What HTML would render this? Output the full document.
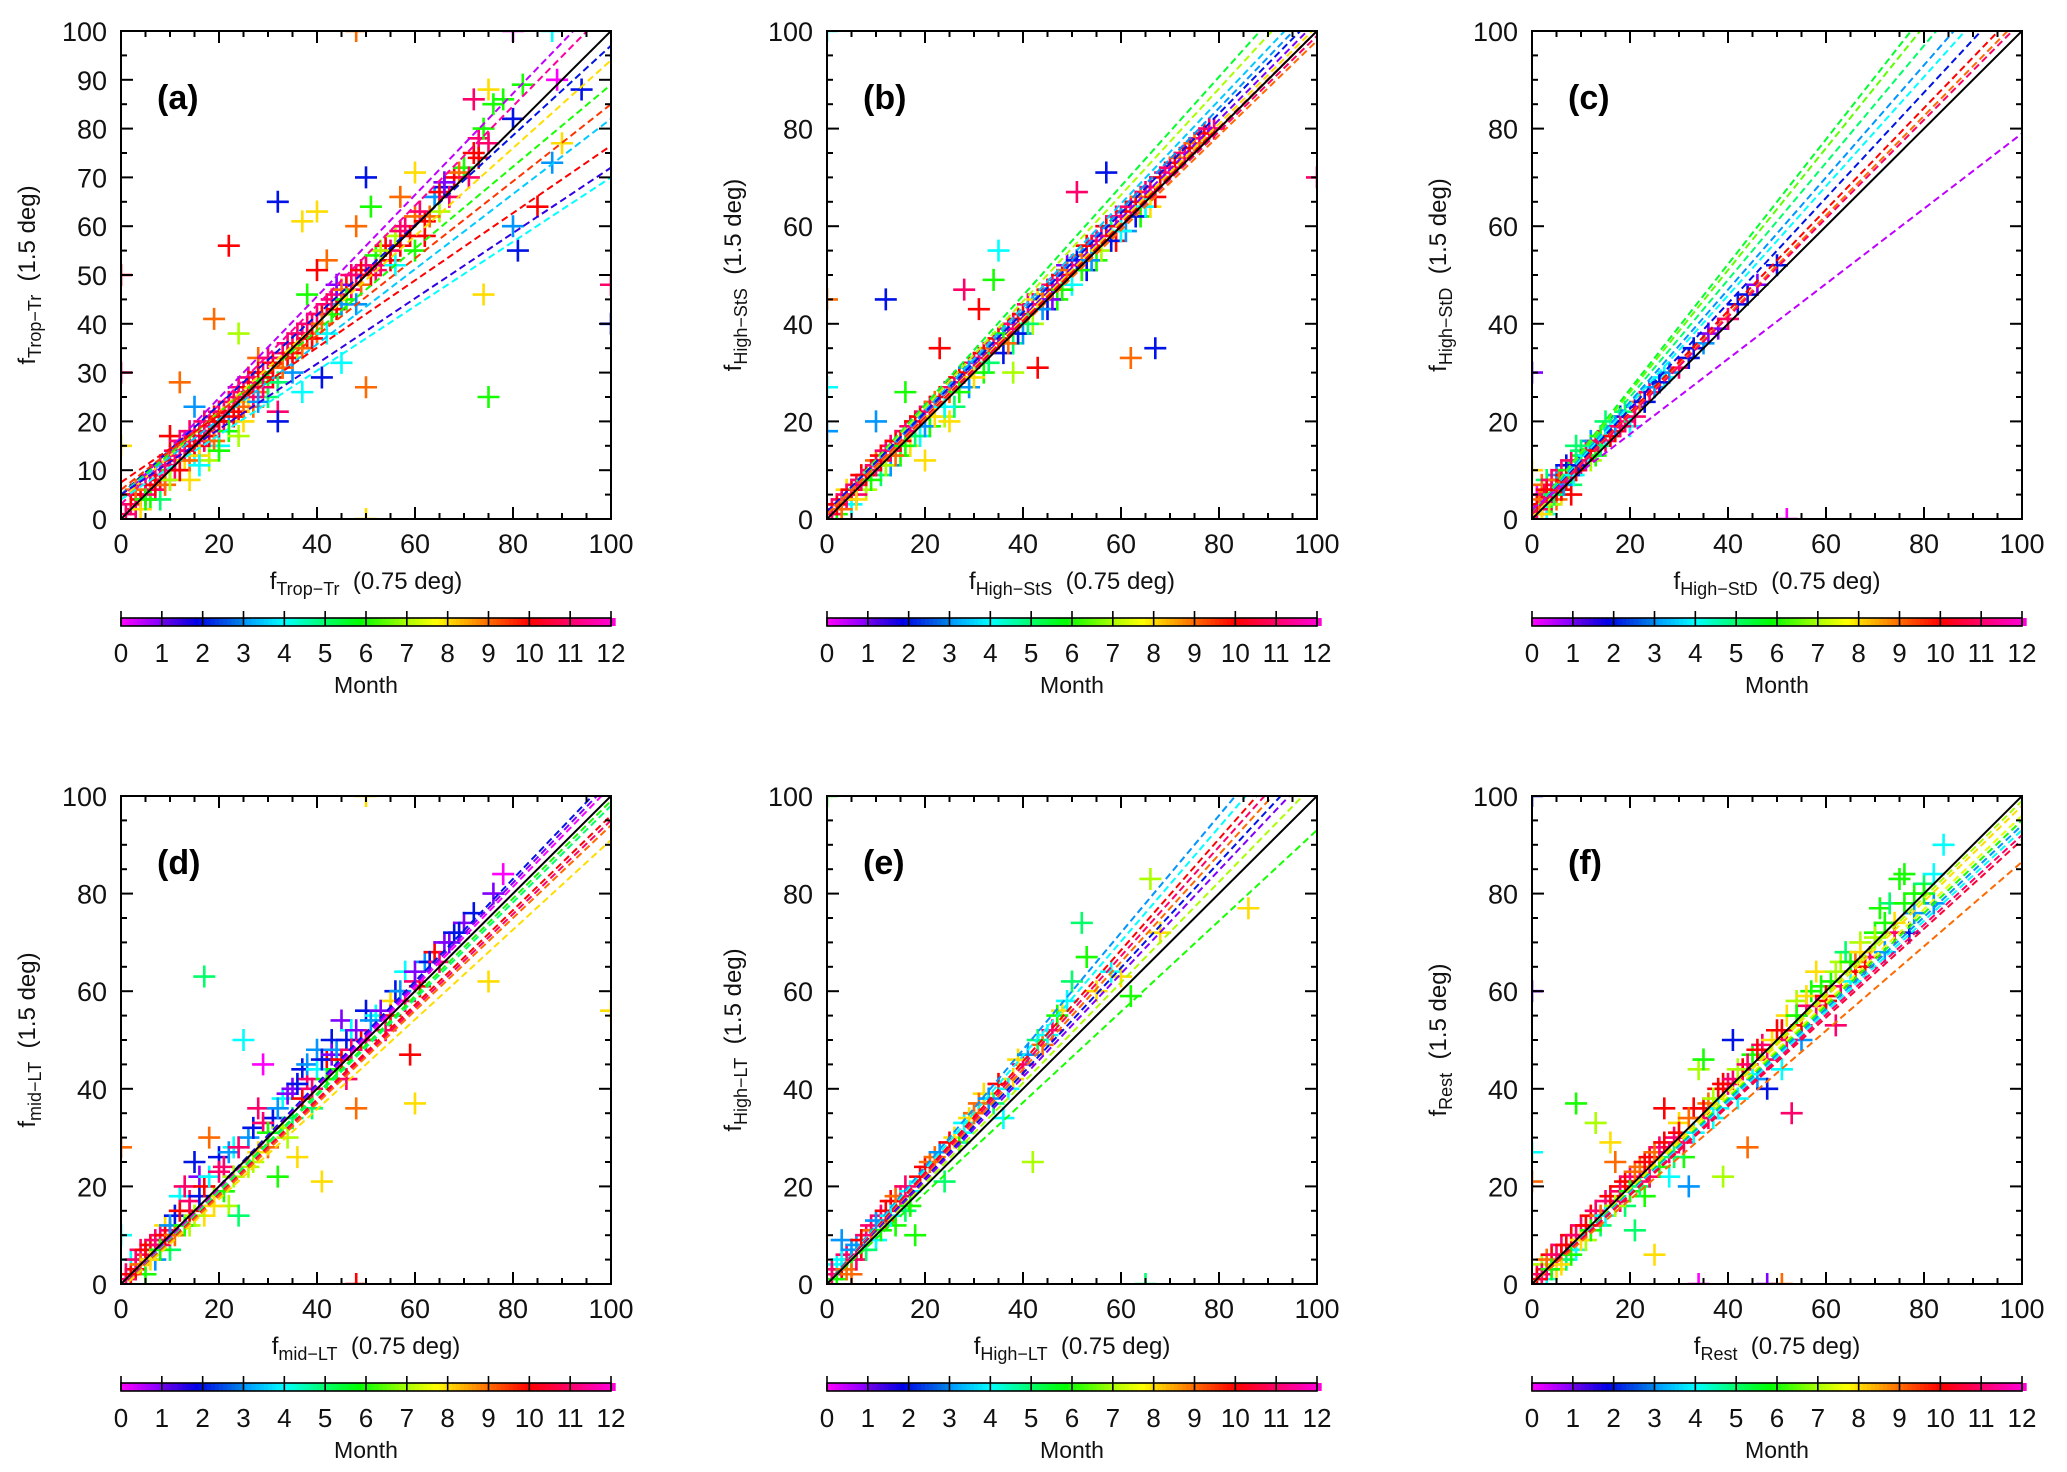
<!DOCTYPE html>
<html><head><meta charset="utf-8">
<style>
html,body{margin:0;padding:0;background:#fff;}
svg{display:block;font-family:"Liberation Sans",sans-serif;}
</style></head>
<body>
<svg id="fig" width="2067" height="1472" viewBox="0 0 2067 1472" xmlns="http://www.w3.org/2000/svg"></svg>
<script>
// ---- data ----
const panelIds = ['a','b','c','d','e','f'];
const panelSub = ['Trop\u2212Tr','High\u2212StS','High\u2212StD','mid\u2212LT','High\u2212LT','Rest'];
const monthTicks = [0,1,2,3,4,5,6,7,8,9,10,11,12];
const xTicks = [0,20,40,60,80,100];
const yTicksA = [0,10,20,30,40,50,60,70,80,90,100];
const yTicksOther = [0,20,40,60,80,100];

// points: [x, y, month]
const pointsA = [[2,3,11],[3,5,11],[4,4,10],[5,7,11],[6,6,9],[7,9,11],[8,8,10],[9,11,11],[10,10,6],[10,13,11],[11,12,10],[12,14,11],[13,12,8],[13,16,11],[14,15,10],[15,17,11],[15,13,4],[16,18,10],[17,16,11],[18,19,11],[18,15,7],[19,21,10],[20,18,11],[21,22,11],[22,20,3],[23,24,11],[24,22,10],[25,26,11],[26,24,8],[27,28,11],[28,26,9],[29,30,11],[30,28,6],[31,32,10],[32,22,11],[32,20,2],[33,34,11],[34,33,10],[35,36,11],[36,35,7],[37,38,11],[38,37,10],[39,40,11],[40,38,9],[41,42,10],[42,44,11],[43,42,6],[44,46,11],[45,44,3],[46,48,10],[47,47,11],[48,50,11],[49,48,9],[50,52,11],[51,50,10],[52,54,6],[53,52,11],[54,56,10],[55,55,11],[56,58,7],[57,56,10],[58,60,11],[60,62,9],[62,61,10],[64,66,3],[65,63,7],[66,68,2],[68,70,10],[70,72,6],[72,75,10],[73,78,11],[74,80,6],[76,85,6],[78,86,6],[80,82,2],[72,86,11],[75,88,8],[82,89,6],[85,64,10],[88,73,3],[90,77,8],[94,88,2],[89,90,0],[80,60,3],[81,55,2],[74,46,8],[75,25,6],[50,27,9],[45,32,4],[37,26,4],[41,29,2],[32,65,2],[37,61,8],[40,63,8],[22,56,10],[19,41,9],[24,38,7],[12,28,9],[50,70,2],[51,64,6],[60,71,8],[57,66,9],[48,60,9],[42,53,9],[38,46,6],[44,48,1],[40,51,10],[15,23,3],[10,17,10],[26,29,11],[28,33,9],[6,4,6],[8,4,5],[20,15,4],[30,25,5],[35,30,3],[25,20,8],[27,23,9],[14,8,8],[18,12,7],[3,2,11],[5,5,11],[7,6,11],[9,8,11],[11,10,11],[13,14,11],[16,15,11],[19,18,11],[21,20,11],[24,25,11],
[1,1,11],[2,5,10],[3,6,9],[4,2,8],[5,4,6],[6,9,11],[7,7,10],[8,11,11],[9,7,9],[10,8,7],[11,14,11],[12,10,10],[12,16,11],[14,12,9],[14,18,11],[15,15,10],[16,13,8],[17,20,11],[18,17,10],[19,16,9],[20,22,11],[20,20,10],[22,24,11],[22,18,6],[23,21,10],[24,27,11],[25,23,9],[26,27,10],[27,25,11],[28,30,10],[29,27,11],[30,33,11],[31,29,10],[33,31,9],[34,36,11],[35,34,10],[36,38,11],[37,35,9],[38,40,11],[39,37,10],[40,42,11],[41,40,9],[43,45,11],[44,43,10],[45,47,9],[46,45,6],[47,50,11],[49,51,10],[52,51,11],[53,55,7],[55,53,10],[57,59,11],[59,58,10],[61,63,11],[63,62,9],[65,67,10],[67,66,11],[69,71,9],[71,70,11],[73,74,10],[75,77,11],[66,69,1],[62,58,10],[60,55,6],[56,52,4],[48,44,3],[42,38,4],[32,28,5],[28,24,3],[16,11,4],[20,14,6],[24,17,7],
[100,48,11],[100,40,2],[0,50,10],[0,30,11],[0,15,8],[48,100,9],[80,100,0],[88,100,4],[50,0,8]];
const pointsB = [[1,2,11],[2,1,6],[3,4,11],[4,6,8],[5,3,4],[6,7,11],[7,9,10],[8,6,7],[9,10,11],[10,12,9],[11,9,5],[12,14,11],[13,11,3],[14,16,10],[15,13,6],[16,18,11],[17,15,8],[18,20,10],[19,17,4],[20,22,11],[21,19,6],[22,24,9],[23,35,10],[24,21,7],[25,27,11],[26,23,5],[27,29,10],[28,47,11],[29,27,3],[30,32,11],[31,43,10],[32,30,6],[33,35,9],[34,49,6],[35,55,4],[36,34,2],[37,39,11],[38,36,5],[39,41,10],[40,38,3],[41,44,11],[42,40,7],[43,31,10],[44,46,9],[45,43,2],[46,48,11],[47,45,6],[48,50,10],[49,52,1],[50,48,4],[51,67,11],[52,54,9],[53,51,2],[54,56,10],[55,53,6],[56,58,11],[57,71,2],[58,60,5],[59,57,10],[60,62,11],[61,59,3],[62,33,9],[63,65,10],[64,62,6],[65,67,11],[66,64,8],[67,35,2],[68,70,10],[70,72,11],[72,74,9],[74,76,10],[76,78,11],[78,80,11],[12,45,2],[20,12,8],[16,26,6],[10,20,3],[25,20,8],[38,30,7],[2,3,11],[4,4,11],[6,5,11],[8,9,11],[11,12,10],[13,15,11],
[1,1,11],[2,3,10],[3,2,9],[4,5,11],[5,6,10],[6,4,8],[7,8,11],[8,9,10],[9,8,6],[10,11,11],[11,13,10],[12,11,7],[13,14,11],[14,13,9],[15,16,10],[16,15,6],[17,19,11],[18,17,5],[19,21,10],[20,19,3],[21,23,11],[22,21,8],[23,25,10],[24,23,4],[25,26,9],[26,28,11],[27,26,6],[28,30,10],[29,31,3],[30,29,8],[31,33,11],[32,34,10],[33,32,5],[34,36,11],[35,37,10],[36,38,6],[37,36,9],[38,40,11],[39,38,2],[40,42,10],[41,40,5],[42,44,11],[43,45,8],[44,43,3],[45,47,10],[46,45,1],[47,49,11],[48,47,6],[49,51,9],[50,52,11],[51,53,2],[52,51,6],[53,56,10],[54,53,3],[55,57,11],[56,55,7],[57,60,10],[58,57,2],[59,62,11],[60,59,4],[61,63,10],[62,64,11],[63,62,2],[64,66,9],[65,64,4],[66,68,11],[67,66,10],[69,71,11],[71,73,10],[73,75,11],[75,77,9],[77,79,10],[79,80,11],
[0,45,9],[0,27,4],[0,100,4],[100,70,11],[0,18,3]];
const pointsC = [[1,2,11],[1,5,0],[2,3,10],[2,7,9],[3,4,11],[3,1,4],[4,6,10],[4,3,6],[5,7,11],[5,9,3],[6,5,8],[6,8,11],[7,9,10],[7,11,2],[8,7,5],[8,10,11],[9,12,4],[10,11,10],[10,13,6],[11,14,11],[12,12,7],[12,16,3],[13,15,10],[14,17,6],[15,16,11],[16,19,4],[17,18,10],[18,21,2],[19,20,11],[20,19,4],[21,23,1],[22,24,9],[24,26,11],[25,27,3],[27,29,4],[30,31,11],[32,33,2],[35,36,3],[38,39,1],[40,41,11],[44,46,2],[50,52,2],[15,20,5],[9,15,5],[3,8,5],[5,4,9],[8,5,10],[2,2,11],[4,5,11],[6,6,10],
[0.5,1,11],[1,3,10],[1.5,4,9],[2,1,8],[2.5,5,11],[3,6,10],[3.5,3,7],[4,8,11],[4.5,5,5],[5,6,10],[5.5,8,9],[6,10,11],[6.5,7,3],[7,8,10],[7.5,10,6],[8,12,11],[8.5,9,4],[9,10,10],[9.5,11,2],[10,14,5],[11,12,11],[11.5,13,4],[12,14,10],[13,13,6],[13.5,16,11],[14,15,5],[15,17,4],[16,17,10],[17,19,3],[18,19,11],[19,22,5],[21,21,11],[23,24,2],[26,28,2],[28,30,3],[33,35,2],[36,38,1],[42,44,2],[46,48,1],
[0,30,1],[0,10,8],[52,0,0]];
const pointsD = [[1,2,11],[2,5,4],[3,3,10],[4,7,11],[5,2,6],[6,8,10],[7,5,3],[8,10,11],[9,12,8],[10,7,5],[11,14,2],[12,18,4],[13,20,11],[14,12,7],[15,25,2],[16,22,1],[17,63,5],[17,14,8],[18,30,9],[19,18,7],[20,26,2],[21,24,11],[22,16,7],[23,28,4],[24,14,5],[25,50,4],[26,30,3],[27,25,7],[28,36,11],[29,45,0],[30,28,9],[31,34,2],[32,22,6],[33,38,4],[34,30,7],[35,40,1],[36,26,8],[37,44,2],[38,42,11],[39,36,5],[40,48,3],[41,21,8],[42,46,10],[43,50,2],[44,44,6],[45,54,1],[46,42,11],[47,52,4],[48,36,9],[49,50,10],[50,56,2],[52,55,4],[54,52,11],[55,58,8],[56,60,2],[58,64,4],[59,47,10],[60,37,8],[60,62,11],[62,66,3],[64,68,10],[66,70,1],[68,72,2],[70,74,1],[72,76,2],[75,62,8],[76,80,1],[78,84,0],[5,6,11],[8,8,11],[10,11,11],[14,15,10],
[1,1,11],[2,2,10],[3,5,11],[4,4,9],[5,7,10],[6,5,8],[7,9,11],[8,7,6],[9,10,10],[10,12,3],[11,10,9],[12,15,10],[13,12,6],[14,17,11],[15,14,7],[16,18,2],[17,20,10],[18,22,4],[19,16,8],[20,23,11],[21,19,6],[22,27,3],[23,22,7],[24,28,11],[26,24,7],[27,32,2],[28,27,8],[29,33,11],[30,31,6],[32,36,3],[33,32,7],[34,39,1],[35,34,5],[36,41,2],[37,38,10],[38,45,3],[39,40,11],[40,44,4],[41,46,2],[42,42,6],[43,47,1],[44,48,3],[45,46,10],[46,50,2],[47,48,11],[48,52,1],[50,50,11],[51,54,3],[53,56,1],[55,55,10],[57,60,3],[58,58,11],[60,64,1],[61,61,10],[63,66,2],[65,66,11],[67,70,1],[69,72,2],
[100,56,8],[50,100,8],[0,28,9],[0,10,4],[48,0,10]];
const pointsE = [[1,2,11],[2,4,4],[3,3,10],[4,6,11],[5,5,6],[6,8,3],[7,7,10],[8,10,11],[9,11,9],[10,9,4],[11,14,11],[12,13,9],[13,17,10],[14,12,6],[15,18,11],[16,15,5],[17,19,4],[18,10,6],[20,24,10],[22,26,9],[24,21,5],[26,30,8],[27,29,6],[28,33,4],[30,35,9],[32,39,8],[34,37,5],[36,34,4],[38,42,8],[40,45,11],[42,25,7],[44,49,9],[46,52,11],[48,56,8],[50,62,5],[52,74,5],[53,67,6],[55,60,8],[58,64,4],[60,63,8],[62,59,6],[66,83,7],[68,72,8],[86,77,8],[3,9,3],[5,2,9],
[1,3,11],[2,1,6],[3,5,4],[4,3,9],[5,7,3],[6,5,11],[7,9,10],[8,7,5],[9,12,11],[10,13,3],[11,11,6],[12,15,10],[13,14,4],[14,18,9],[16,20,11],[17,16,6],[19,22,10],[21,25,9],[23,27,3],[25,29,10],[28,31,4],[29,34,8],[31,37,9],[33,38,3],[35,41,10],[37,40,4],[39,46,8],[41,47,3],[43,50,5],[45,51,4],[47,55,6],[49,58,4],
[0,100,6],[65,0,5]];
const pointsF = [[1,2,11],[2,4,7],[3,1,4],[4,6,10],[5,3,8],[6,8,11],[7,5,5],[8,10,10],[9,37,6],[9,7,4],[10,12,11],[11,9,7],[12,14,10],[13,33,7],[14,12,5],[15,17,11],[16,29,8],[17,25,9],[18,20,10],[19,16,5],[20,22,11],[21,11,5],[22,24,9],[23,18,6],[24,26,10],[25,6,8],[26,28,11],[27,36,10],[28,22,4],[29,30,11],[30,33,8],[31,26,6],[32,20,3],[33,36,10],[34,44,7],[35,46,6],[36,37,9],[37,34,4],[38,40,10],[39,22,7],[40,41,11],[41,50,2],[42,38,4],[43,44,10],[44,28,9],[45,47,6],[46,42,3],[47,49,11],[48,40,2],[50,52,10],[51,44,4],[52,55,8],[53,35,11],[54,58,7],[55,50,3],[56,57,11],[57,60,6],[58,64,8],[60,58,10],[61,62,6],[62,53,11],[63,66,7],[64,68,5],[65,62,4],[66,66,9],[67,70,7],[68,65,10],[70,72,6],[71,77,6],[72,68,3],[73,78,5],[74,74,8],[75,83,6],[76,84,6],[77,72,2],[78,80,6],[80,82,5],[82,78,3],[84,90,4],[3,3,11],[6,6,10],[12,12,11],[18,17,11],[22,21,11],
[1,1,10],[2,2,11],[3,5,9],[4,3,6],[5,6,11],[6,4,8],[7,8,10],[8,6,6],[9,10,11],[10,9,8],[11,12,10],[12,11,6],[13,15,11],[14,14,9],[15,14,4],[16,18,10],[17,16,7],[18,19,11],[19,21,10],[20,19,6],[21,23,9],[22,20,5],[23,25,10],[24,22,11],[25,27,9],[26,24,6],[27,29,10],[28,27,11],[29,26,5],[30,31,10],[31,29,11],[32,34,9],[33,31,4],[35,36,10],[36,34,11],[37,38,7],[38,36,4],[39,41,10],[41,42,11],[42,44,7],[44,45,11],[45,43,4],[46,48,10],[48,46,11],[49,50,8],[51,52,10],[52,50,11],[54,55,6],[55,53,10],[56,59,8],[58,57,11],[59,61,6],[60,59,10],[62,64,7],[63,61,11],[65,66,6],[66,64,10],[67,68,8],[69,67,11],[70,71,7],[72,74,6],[74,72,11],[76,78,6],[78,76,3],[80,80,6],[82,84,4],
[0,27,4],[0,21,9],[0,60,1],[0,100,2],[34,0,0],[48,0,1],[51,0,9]];

// regression lines: [month, slope, intercept]
const linesA = [[0.5,1.04,4],[11.5,1.02,3],[2,0.92,5],[8,0.9,4],[6,0.84,5],[9.5,0.79,6],[3.5,0.77,5],[10,0.69,7.5],[1.5,0.67,5],[4,0.66,4]];
const linesB = [[5.5,1.12,1],[7,1.09,1],[3.5,1.06,1],[3,1.04,1],[2,1.02,1.5],[1,1.01,1],[8,1.0,1],[10,0.99,1],[11,0.98,1],[9,0.97,1]];
const linesC = [[5.5,1.28,1],[6.5,1.25,1],[5,1.2,1],[3,1.15,1],[4,1.12,1],[2,1.08,1],[10,1.04,1],[9,1.02,1],[11,1.01,1],[0.5,0.77,2]];
const linesD = [[2,1.05,-1],[1,1.04,-1],[0,1.03,-1],[6,1.0,-1],[5,0.99,-1],[10,0.97,-1],[11,0.96,-1],[9,0.95,-1],[8,0.92,-1]];
const linesE = [[3,1.2,0],[4,1.17,0],[10,1.14,0],[11,1.12,0],[9,1.1,0],[2,1.08,0],[1,1.06,0],[7,1.03,0],[6,0.93,0]];
const linesF = [[7,0.99,0],[8,0.98,0],[7.5,0.96,0],[6,0.95,0],[3,0.94,0],[4,0.93,0],[11,0.92,0],[10.5,0.91,0],[9,0.865,0]];

const allPoints = [pointsA,pointsB,pointsC,pointsD,pointsE,pointsF];
const allLines = [linesA,linesB,linesC,linesD,linesE,linesF];

// ---- layout ----
const NS = 'http://www.w3.org/2000/svg';
const svg = document.getElementById('fig');
const colLeft = [121, 827, 1532];
const rowTop = [31, 796];
const W = 490, H = 488;

const hueStops = [[0,300],[1,270],[2,235],[3,205],[4,180],[5,145],[6,115],[7,80],[8,52],[9,25],[10,0],[11,-25],[12,-50]];
function monthColor(m){
  for(let i=0;i<hueStops.length-1;i++){
    const a=hueStops[i], b=hueStops[i+1];
    if(m<=b[0]){const t=(m-a[0])/(b[0]-a[0]); let h=a[1]+t*(b[1]-a[1]); h=(h+360)%360; return 'hsl('+h.toFixed(1)+',100%,'+(m>1&&m<3?'45%':'50%')+')';}
  }
  return 'hsl(310,100%,50%)';
}
function el(tag, attrs, parent){
  const e=document.createElementNS(NS,tag);
  for(const k in attrs) e.setAttribute(k, attrs[k]);
  (parent||svg).appendChild(e);
  return e;
}

panelIds.forEach((pid, pi)=>{
  const col = pi%3, row = Math.floor(pi/3);
  const L = colLeft[col], T = rowTop[row], B = T+H, R = L+W;
  const sx = v => L + v/100*W;
  const sy = v => B - v/100*H;
  const g = el('g',{});
  
  

  const clipId='clip'+pid;
  const defs=el('defs',{},g);
  const cp=el('clipPath',{id:clipId},defs);
  el('rect',{x:L,y:T,width:W,height:H},cp);

  const plot = el('g',{'clip-path':'url(#'+clipId+')'},g);
  
  

  // points
  allPoints[pi].forEach(p=>{
    const cx=sx(p[0]), cy=sy(p[1]), c=monthColor(p[2]), s=11;
    const pt=el('path',{d:'M'+(cx-s)+' '+cy+'H'+(cx+s)+'M'+cx+' '+(cy-s)+'V'+(cy+s),stroke:c,'stroke-width':2.6,fill:'none'},plot);
    
    
  });
  // regression lines
  allLines[pi].forEach(ln=>{
    const l=el('line',{x1:sx(0),y1:sy(ln[2]),x2:sx(100),y2:sy(ln[1]*100+ln[2]),stroke:monthColor(ln[0]),'stroke-width':2,'stroke-dasharray':'7,4'},plot);
    
    
  });
  const one=el('line',{x1:sx(0),y1:sy(0),x2:sx(100),y2:sy(100),stroke:'#000','stroke-width':2},plot);
  
  

  // frame
  const fr=el('rect',{x:L,y:T,width:W,height:H,fill:'none',stroke:'#000','stroke-width':2},g);
  
  

  // ticks
  const yMajor = pi===0 ? yTicksA : yTicksOther;
  const tk=el('g',{stroke:'#000','stroke-width':2},g);
  for(let v=0; v<=100; v+=5){
    const xm = xTicks.indexOf(v)>=0, ym = yMajor.indexOf(v)>=0;
    const lx = xm?12:6, ly = ym?12:6;
    el('line',{x1:sx(v),y1:B,x2:sx(v),y2:B-lx},tk);
    el('line',{x1:sx(v),y1:T,x2:sx(v),y2:T+lx},tk);
    el('line',{x1:L,y1:sy(v),x2:L+ly,y2:sy(v)},tk);
    el('line',{x1:R,y1:sy(v),x2:R-ly,y2:sy(v)},tk);
  }
  xTicks.forEach(v=>{
    const t=el('text',{x:sx(v),y:B+34,'font-size':27,'text-anchor':'middle',fill:'#111'},g);
    t.textContent=v;
    
    
  });
  yMajor.forEach(v=>{
    const t=el('text',{x:L-14,y:sy(v)+10,'font-size':27,'text-anchor':'end',fill:'#111'},g);
    t.textContent=v;
    
    
  });

  // panel label
  const pl=el('text',{x:L+36,y:T+78,'font-size':34,'font-weight':'bold',fill:'#000'},g);
  pl.textContent='('+pid+')';
  
  

  // axis titles
  const xt=el('text',{x:L+W/2,y:B+70,'font-size':24,'text-anchor':'middle',fill:'#111'},g);
  xt.innerHTML='f<tspan font-size="18" dy="6">'+panelSub[pi]+'</tspan><tspan dy="-6" xml:space="preserve">  (0.75 deg)</tspan>';
  
  
  const yx=L-86, yy=T+H/2;
  const yt=el('text',{x:yx,y:yy,'font-size':24,'text-anchor':'middle',fill:'#111',transform:'rotate(-90 '+yx+' '+yy+')'},g);
  yt.innerHTML='f<tspan font-size="18" dy="6">'+panelSub[pi]+'</tspan><tspan dy="-6" xml:space="preserve">  (1.5 deg)</tspan>';
  
  

  // colorbar
  const cbT = B+99, cbH = 8;
  const cb=el('g',{},g);
  
  
  const cw = W/12;
  for(let m=0; m<12; m+=0.1){
    el('rect',{x:L+m*cw,y:cbT,width:cw*0.1+0.6,height:cbH,fill:monthColor(m+0.05)},cb);
  }
  el('rect',{x:L,y:cbT,width:W,height:cbH,fill:'none',stroke:'#000','stroke-width':1.6},cb);
  monthTicks.forEach(m=>{
    el('line',{x1:L+m*cw,y1:cbT-7,x2:L+m*cw,y2:cbT+cbH,stroke:'#000','stroke-width':1.6},cb);
    const t=el('text',{x:L+m*cw,y:cbT+44,'font-size':26,'text-anchor':'middle',fill:'#111'},cb);
    t.textContent=m;
    
    
  });
  const mt=el('text',{x:L+W/2,y:cbT+75,'font-size':23,'text-anchor':'middle',fill:'#111'},cb);
  mt.textContent='Month';
  
  
});
</script>
</body></html>
